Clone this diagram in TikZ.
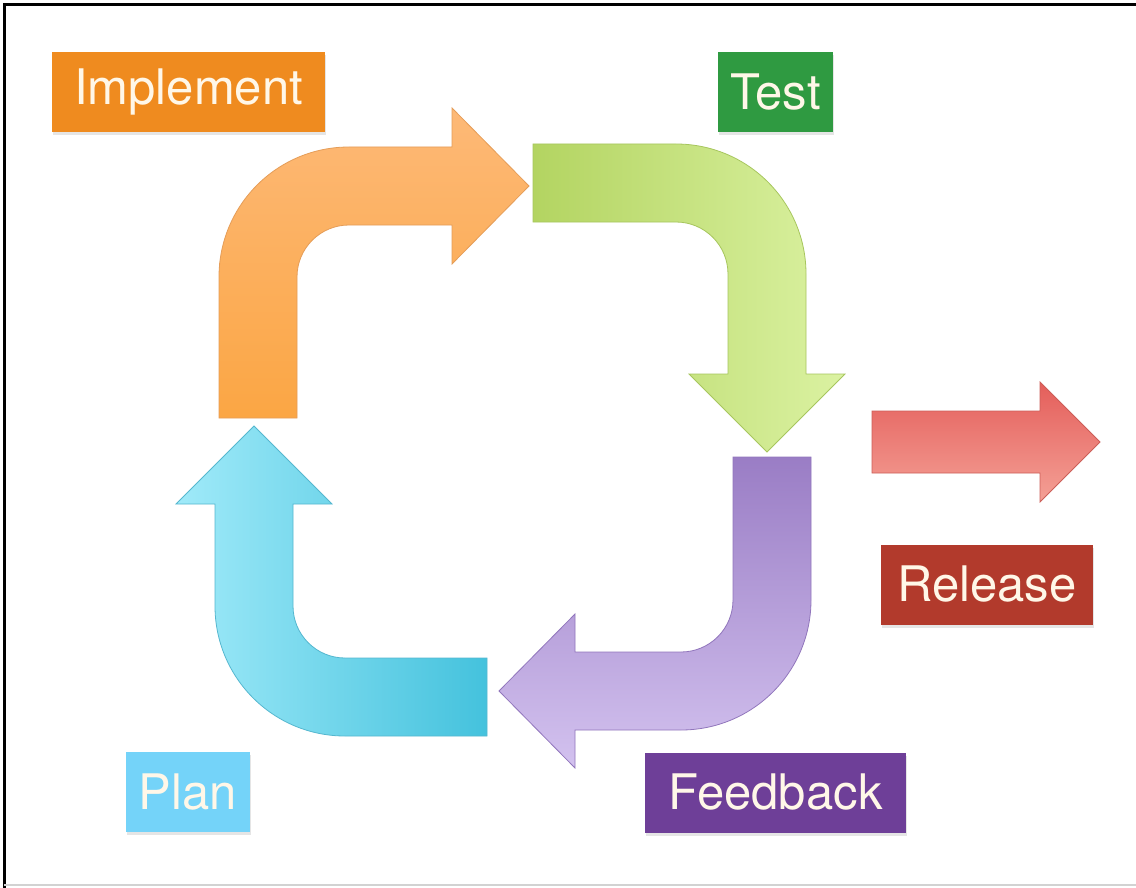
\documentclass[tikz,border=0pt]{standalone}
\usepackage{fontspec}
\setmainfont{TeX Gyre Heros}
\usetikzlibrary{shadows}
\definecolor{labeltext}{HTML}{FFF7E8}
\definecolor{implbox}{HTML}{EF8B1F}
\definecolor{testbox}{HTML}{2F9A41}
\definecolor{relbox}{HTML}{B23A2C}
\definecolor{feedbox}{HTML}{6E3F98}
\definecolor{planbox}{HTML}{74D3F9}
\definecolor{impltop}{HTML}{FDB977}
\definecolor{implbot}{HTML}{FBA644}
\definecolor{impledge}{HTML}{E59D58}
\definecolor{testleft}{HTML}{B3D461}
\definecolor{testright}{HTML}{DBF2A2}
\definecolor{testedge}{HTML}{A7C65E}
\definecolor{feedtop}{HTML}{9A7DC5}
\definecolor{feedbot}{HTML}{D3C2EF}
\definecolor{feededge}{HTML}{9176BC}
\definecolor{planleft}{HTML}{A0EAF9}
\definecolor{planright}{HTML}{44C2DD}
\definecolor{planedge}{HTML}{55B7CF}
\definecolor{reltop}{HTML}{E45E5A}
\definecolor{relbot}{HTML}{F4A096}
\definecolor{reledge}{HTML}{CC5E58}
\tikzset
{
    stagebox/.style = {rectangle, inner sep=0pt, minimum height=80pt, text=labeltext, font=\fontsize{49}{60}\selectfont, drop shadow={opacity=0.2, shadow xshift=1pt, shadow yshift=-3pt}},
    bentarrow/.style = {line width=0.8pt, line join=miter},
    implarrow/.style = {bentarrow, draw=impledge, top color=impltop, bottom color=implbot},
    testarrow/.style = {bentarrow, draw=testedge, left color=testleft, right color=testright},
    feedarrow/.style = {bentarrow, draw=feededge, top color=feedtop, bottom color=feedbot},
    planarrow/.style = {bentarrow, draw=planedge, left color=planleft, right color=planright},
    relarrow/.style = {bentarrow, draw=reledge, top color=reltop, bottom color=relbot}
}

\begin{document}
\begin{tikzpicture}[x=1pt, y=-1pt]
    \useasboundingbox (0,0) rectangle (1136,888);
    \fill[white] (0,0) rectangle (1136,888);
    \draw[line width=3pt] (4.5,888) -- (4.5,4.5) -- (1136,4.5);
    \draw[gray!35, line width=2pt] (4,885) -- (1136,885);

    % ------------------------------------------------ the four bent arrows of the loop
    \path[implarrow] (219,418) -- (219,277) arc[start angle=180, end angle=270, radius=130]
        -- (452,147) -- (452,108) -- (529,186) -- (452,264) -- (452,225) -- (349,225)
        arc[start angle=270, end angle=180, radius=52] -- (297,418) -- cycle;
    \path[testarrow] (533,144) -- (676,144) arc[start angle=270, end angle=360, radius=130]
        -- (806,374) -- (845,374) -- (767,452) -- (689,374) -- (728,374) -- (728,274)
        arc[start angle=360, end angle=270, radius=52] -- (533,222) -- cycle;
    \path[feedarrow] (733,457) -- (811,457) -- (811,600) arc[start angle=0, end angle=90, radius=130]
        -- (575,730) -- (575,768) -- (499,691) -- (575,614) -- (575,652) -- (681,652)
        arc[start angle=90, end angle=0, radius=52] -- cycle;
    \path[planarrow] (487,658) -- (487,736) -- (345,736) arc[start angle=90, end angle=180, radius=130]
        -- (215,504) -- (176,504) -- (254,426) -- (332,504) -- (293,504) -- (293,606)
        arc[start angle=180, end angle=90, radius=52] -- cycle;
    % ------------------------------------------------ straight arrow out of the loop
    \path[relarrow] (872,411) -- (1040,411) -- (1040,382) -- (1100,442) -- (1040,502) -- (1040,473) -- (872,473) -- cycle;

    % ------------------------------------------------ stage labels
    \node [stagebox, fill=implbox, minimum width=273pt] (implement) at (188.5,92) {Implement};
    \node [stagebox, fill=testbox, minimum width=115pt] (test) at (775.5,92) {Test};
    \node [stagebox, fill=relbox, minimum width=212pt] (release) at (987,584.5) {Release};
    \node [stagebox, fill=feedbox, minimum width=261pt] (feedback) at (775.5,792.5) {Feedback};
    \node [stagebox, fill=planbox, minimum width=124pt] (plan) at (188,792) {Plan};
\end{tikzpicture}
\end{document}
